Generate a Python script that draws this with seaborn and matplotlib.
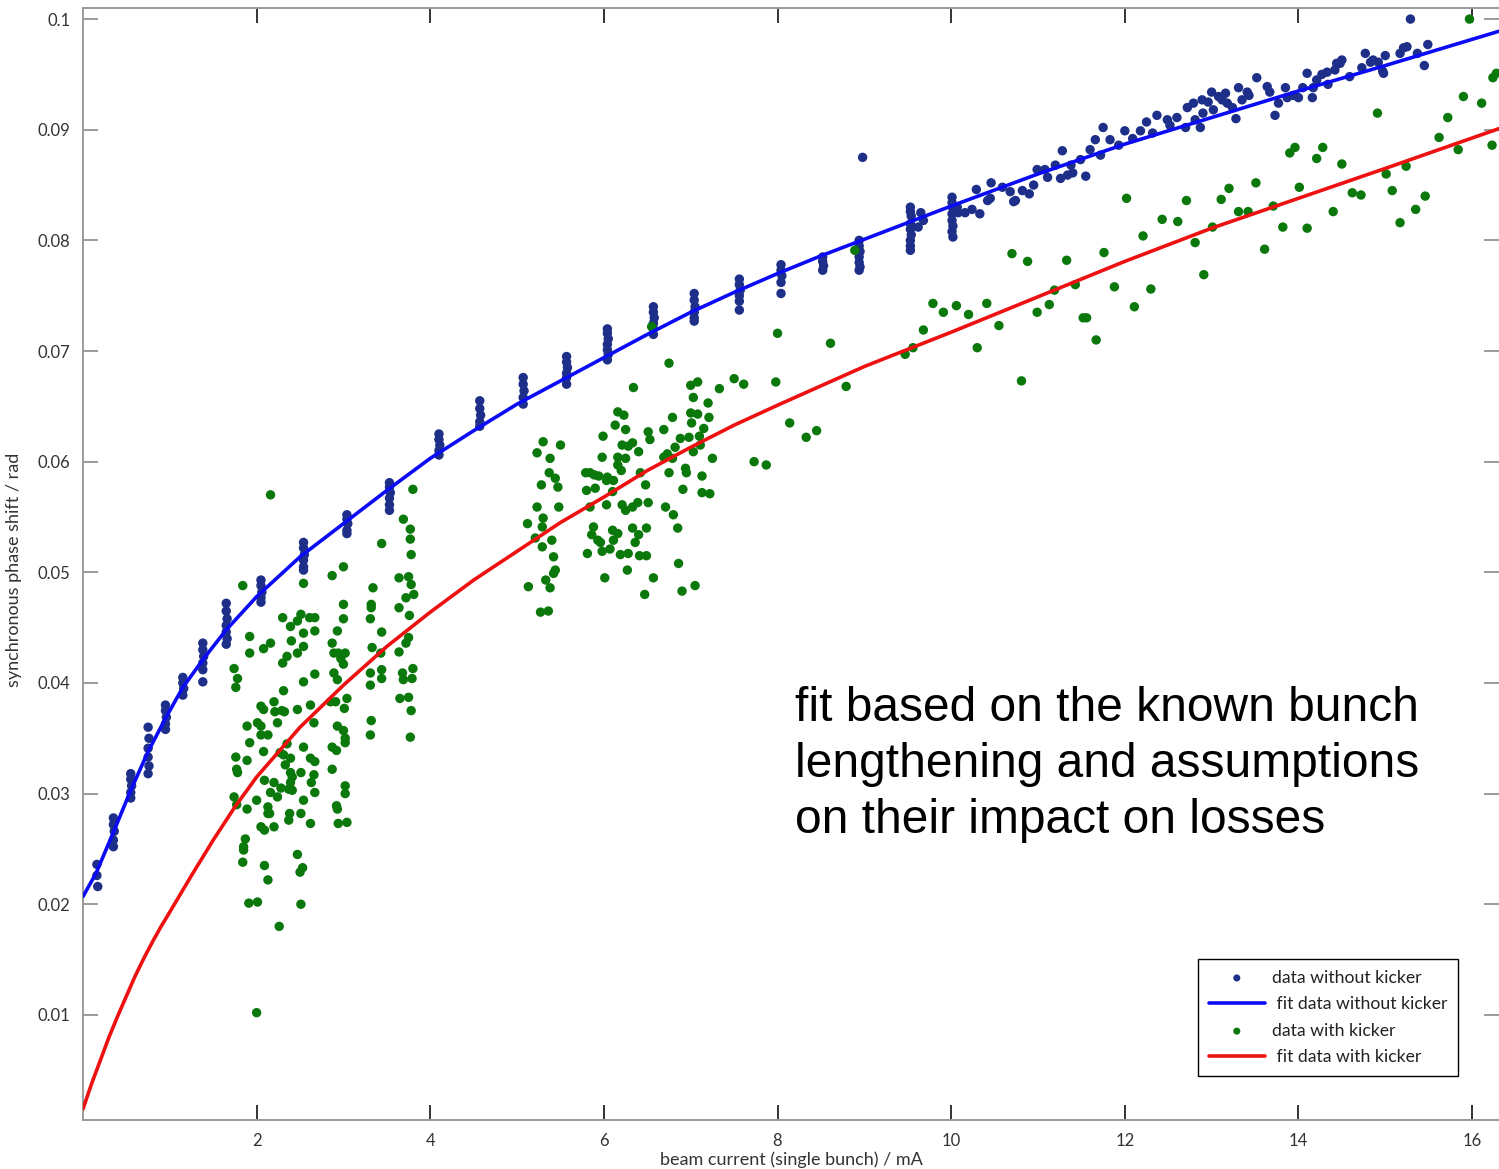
import matplotlib
matplotlib.use("Agg")
import matplotlib.pyplot as plt
import pandas as pd
import seaborn as sns
from matplotlib.ticker import FuncFormatter

# ---------------- data ----------------
blue_x = [0.16, 0.16, 0.17,
          0.35, 0.35, 0.36, 0.35, 0.35,
          0.55, 0.55, 0.56, 0.55, 0.55,
          0.75, 0.76, 0.75, 0.75, 0.76, 0.75,
          0.95, 0.95, 0.96, 0.95, 0.95,
          1.15, 1.15, 1.16, 1.15,
          1.38, 1.38, 1.39, 1.38, 1.38, 1.38,
          1.65, 1.65, 1.66, 1.65, 1.65, 1.66, 1.65,
          2.05, 2.05, 2.06, 2.05, 2.05,
          2.54, 2.54, 2.55, 2.54, 2.54, 2.54,
          3.04, 3.04, 3.05, 3.04, 3.04,
          3.53, 3.53, 3.54, 3.53, 3.53, 3.53,
          4.10, 4.10, 4.11, 4.10, 4.10,
          4.57, 4.57, 4.58, 4.57, 4.57,
          5.07, 5.07, 5.08, 5.07, 5.07,
          5.57, 5.57, 5.58, 5.57, 5.57, 5.57,
          6.04, 6.04, 6.05, 6.04, 6.04, 6.05, 6.04,
          6.57, 6.57, 6.58, 6.57, 6.57, 6.57,
          7.04, 7.04, 7.05, 7.04, 7.04, 7.04,
          7.56, 7.56, 7.57, 7.56, 7.56, 7.56,
          8.04, 8.04, 8.05, 8.04, 8.04,
          8.52, 8.52, 8.53, 8.52,
          8.94, 8.94, 8.95, 8.94, 8.94, 8.95, 8.94, 8.98,
          9.53, 9.53, 9.54, 9.53, 9.53, 9.54, 9.53, 9.53, 9.53, 9.65, 9.68, 9.62,
          10.01, 10.01, 10.02, 10.01, 10.01, 10.02, 10.01, 10.02, 10.07, 10.08,
          10.16, 10.24, 10.33, 10.29, 10.42, 10.45, 10.46, 10.59, 10.68, 10.74, 10.72, 10.82, 10.90,
          10.95, 10.99, 11.11, 11.26, 11.34, 11.40, 11.55, 11.08, 11.20, 11.28, 11.38, 11.49,
          11.60, 11.66, 11.75, 11.72, 11.83, 11.93, 12.00, 12.09, 12.18, 12.25, 12.32,
          12.37, 12.49, 12.52, 12.60, 12.70, 12.72, 12.79, 12.81, 12.87, 12.90,
          12.89, 12.96, 13.00, 13.02, 13.08, 13.12, 13.16, 13.18, 13.24, 13.28,
          13.31, 13.35, 13.41, 13.43, 13.52, 13.64, 13.67, 13.73, 13.77, 13.85,
          13.87, 13.94, 14.00, 14.05, 14.10, 14.16, 14.17, 14.21, 14.27, 14.33,
          14.34, 14.42, 14.44, 14.48, 14.50, 14.59, 14.73, 14.77, 14.83, 14.86, 14.92,
          14.97, 14.98, 15.00, 15.17, 15.21, 15.25, 15.29, 15.37, 15.45, 15.49]
blue_y = [0.0236, 0.0226, 0.0216,
          0.0278, 0.0272, 0.0266, 0.0258, 0.0252,
          0.0318, 0.0313, 0.0307, 0.0301, 0.0296,
          0.0360, 0.0350, 0.0341, 0.0333, 0.0325, 0.0318,
          0.0380, 0.0375, 0.0369, 0.0363, 0.0358,
          0.0405, 0.0400, 0.0395, 0.0389,
          0.0436, 0.0430, 0.0424, 0.0418, 0.0412, 0.0401,
          0.0472, 0.0465, 0.0458, 0.0452, 0.0446, 0.0440, 0.0435,
          0.0493, 0.0488, 0.0482, 0.0477, 0.0473,
          0.0527, 0.0522, 0.0516, 0.0511, 0.0505, 0.0502,
          0.0552, 0.0548, 0.0544, 0.0538, 0.0535,
          0.0581, 0.0577, 0.0572, 0.0567, 0.0561, 0.0556,
          0.0625, 0.0620, 0.0615, 0.0610, 0.0606,
          0.0655, 0.0648, 0.0642, 0.0636, 0.0632,
          0.0676, 0.0670, 0.0664, 0.0658, 0.0652,
          0.0695, 0.0690, 0.0685, 0.0680, 0.0676, 0.0670,
          0.0720, 0.0716, 0.0711, 0.0706, 0.0701, 0.0697, 0.0692,
          0.0740, 0.0735, 0.0730, 0.0725, 0.0720, 0.0715,
          0.0752, 0.0746, 0.0740, 0.0735, 0.0730, 0.0727,
          0.0765, 0.0760, 0.0755, 0.0750, 0.0745, 0.0737,
          0.0778, 0.0773, 0.0768, 0.0762, 0.0752,
          0.0785, 0.0781, 0.0777, 0.0773,
          0.0800, 0.0795, 0.0790, 0.0785, 0.0780, 0.0776, 0.0773, 0.0875,
          0.0830, 0.0826, 0.0822, 0.0815, 0.0810, 0.0805, 0.0800, 0.0795, 0.0791, 0.0825, 0.0818, 0.0812,
          0.0839, 0.0834, 0.0829, 0.0824, 0.0818, 0.0813, 0.0808, 0.0803, 0.0830, 0.0825,
          0.0825, 0.0828, 0.0824, 0.0846, 0.0836, 0.0838, 0.0852, 0.0848, 0.0844, 0.0836, 0.0835, 0.0845, 0.0842,
          0.0850, 0.0864, 0.0857, 0.0856, 0.0859, 0.0861, 0.0858, 0.0864, 0.0868, 0.0881, 0.0868, 0.0873,
          0.0882, 0.0891, 0.0902, 0.0877, 0.0891, 0.0886, 0.0899, 0.0892, 0.0899, 0.0907, 0.0897,
          0.0913, 0.0909, 0.0904, 0.0911, 0.0902, 0.0920, 0.0924, 0.0909, 0.0902, 0.0915,
          0.0927, 0.0925, 0.0934, 0.0918, 0.0930, 0.0927, 0.0933, 0.0924, 0.0920, 0.0910,
          0.0938, 0.0927, 0.0934, 0.0931, 0.0947, 0.0939, 0.0934, 0.0913, 0.0924, 0.0938,
          0.0929, 0.0931, 0.0929, 0.0938, 0.0951, 0.0929, 0.0938, 0.0945, 0.0950, 0.0952,
          0.0941, 0.0954, 0.0960, 0.0960, 0.0963, 0.0948, 0.0956, 0.0969, 0.0961, 0.0963, 0.0961,
          0.0953, 0.0951, 0.0967, 0.0969, 0.0974, 0.0975, 0.1000, 0.0969, 0.0958, 0.0977]

green_x = [2.16, 3.80, 1.84, 3.69, 3.77, 3.77, 3.78, 3.44, 3.00, 2.87, 2.54, 3.34,
           3.64, 3.75, 3.78, 3.81, 3.72, 3.32, 3.32, 3.64, 3.76, 3.31, 3.00, 3.00,
           2.30, 2.51, 2.47, 2.39, 2.61, 2.67, 2.67, 2.54, 2.93, 3.44, 1.92, 1.92,
           2.16, 2.08, 2.40, 2.54, 2.47, 2.87, 2.89, 2.94, 3.02, 2.97, 3.00, 3.33, 3.43,
           3.64, 3.72, 3.75, 1.74, 1.78, 1.76, 2.35, 2.30, 2.67, 2.54, 2.89, 2.93,
           3.31, 3.31, 3.44, 3.44, 3.68, 3.69, 3.80, 3.79, 2.31, 2.20, 2.29, 2.21, 2.32,
           2.05, 2.08, 2.47, 2.62, 2.85, 3.04, 3.01, 2.91, 3.65, 3.75, 3.78, 3.32,
           1.89, 2.01, 2.05, 2.24, 2.66, 2.93, 3.00, 3.02, 3.02, 3.31, 3.77, 2.05, 2.13,
           1.92, 2.08, 2.35, 2.54, 2.87, 2.92, 1.76, 1.89, 1.77, 1.78, 2.27, 2.31, 2.39, 2.33,
           2.62, 2.67, 2.51, 2.66, 2.87, 2.39, 2.41, 2.39, 2.09, 2.20, 2.28, 2.37, 2.41,
           2.16, 2.24, 2.63, 2.67, 3.02, 3.02, 1.74, 1.77, 2.00, 1.89, 2.13, 2.15, 2.13,
           2.54, 2.38, 2.37, 2.51, 2.92, 2.93, 2.05, 2.09, 2.20, 2.62, 2.94, 3.04,
           1.87, 1.85, 1.85, 1.84, 2.47, 2.09, 2.53, 2.50, 2.13, 1.91, 2.01, 2.51, 2.26, 2.00,
           6.75, 6.34, 7.00, 7.08, 7.03, 6.16, 6.23, 6.13, 6.25, 7.00, 7.08, 7.01, 7.20, 7.21,
           6.79, 6.69, 6.51, 6.53, 5.99, 5.30, 5.50, 5.23, 5.38, 6.21, 6.33, 6.28, 5.98, 6.16, 6.25,
           6.40, 6.88, 6.98, 7.10, 7.15, 6.82, 7.03, 7.11, 7.25, 6.69, 6.73, 6.79, 6.16, 6.20,
           6.94, 6.95, 6.75, 5.37, 5.44, 5.47, 5.79, 5.84, 5.89, 5.94, 6.04, 6.03, 6.11,
           5.28, 5.80, 5.90, 6.42, 6.48, 6.91, 7.13, 7.13, 7.22, 6.10, 5.23, 5.48, 5.84, 6.03,
           6.21, 6.25, 6.33, 6.39, 6.51, 6.71, 6.80, 5.12, 5.30, 5.29, 6.85, 5.88, 5.86, 5.93, 5.96,
           6.10, 6.16, 6.11, 6.07, 6.33, 6.40, 6.36, 6.49, 5.21, 5.40, 5.29, 5.98, 5.81,
           6.19, 6.28, 6.41, 6.49, 5.42, 6.86, 5.44, 5.42, 5.33, 5.38, 6.27, 6.01, 6.57,
           5.13, 6.47, 6.90, 7.05, 5.27, 5.36,
           7.50, 7.61, 7.98, 7.33, 8.14, 8.33, 8.45, 7.73, 7.87, 8.00, 8.61, 8.79, 6.55, 8.89,
           10.70, 10.88, 11.33, 11.76, 12.02, 12.43, 12.21, 9.79, 9.91, 10.06, 10.20, 10.41,
           10.55, 9.68, 9.56, 9.47, 10.30,
           10.99, 11.13, 11.19, 11.43, 11.52, 11.56, 11.67, 11.88, 12.11, 12.30, 10.81,
           14.91, 16.24, 16.28, 15.90, 16.11, 15.72, 15.62, 15.84, 16.23, 13.90, 13.96, 14.28, 14.21, 14.50,
           12.71, 13.11, 13.20, 13.51, 12.61, 13.31, 13.42, 13.71, 14.01, 13.01, 13.82, 14.10, 14.40, 14.62, 14.72,
           15.01, 15.24, 15.08, 15.46, 15.35, 15.17, 12.81, 13.61, 12.91, 15.97]
green_y = [0.0570, 0.0575, 0.0488, 0.0548, 0.0539, 0.0530, 0.0516, 0.0526, 0.0505, 0.0497, 0.0490, 0.0486,
           0.0495, 0.0496, 0.0489, 0.0480, 0.0477, 0.0471, 0.0468, 0.0468, 0.0461, 0.0458, 0.0471, 0.0458,
           0.0459, 0.0462, 0.0456, 0.0451, 0.0459, 0.0459, 0.0447, 0.0445, 0.0447, 0.0446, 0.0442, 0.0427,
           0.0436, 0.0431, 0.0438, 0.0433, 0.0427, 0.0436, 0.0427, 0.0427, 0.0427, 0.0422, 0.0417, 0.0432, 0.0427,
           0.0428, 0.0436, 0.0441, 0.0413, 0.0404, 0.0396, 0.0424, 0.0418, 0.0408, 0.0401, 0.0409, 0.0403,
           0.0409, 0.0398, 0.0412, 0.0404, 0.0409, 0.0403, 0.0413, 0.0404, 0.0393, 0.0383, 0.0375, 0.0374, 0.0374,
           0.0379, 0.0376, 0.0376, 0.0380, 0.0383, 0.0386, 0.0377, 0.0383, 0.0386, 0.0387, 0.0375, 0.0366,
           0.0361, 0.0364, 0.0361, 0.0364, 0.0364, 0.0361, 0.0357, 0.0350, 0.0346, 0.0353, 0.0351, 0.0353, 0.0353,
           0.0346, 0.0338, 0.0345, 0.0342, 0.0342, 0.0339, 0.0333, 0.0330, 0.0322, 0.0319, 0.0337, 0.0335, 0.0332, 0.0326,
           0.0332, 0.0329, 0.0319, 0.0317, 0.0322, 0.0319, 0.0315, 0.0310, 0.0312, 0.0310, 0.0305, 0.0304, 0.0303,
           0.0301, 0.0297, 0.0310, 0.0301, 0.0307, 0.0300, 0.0297, 0.0290, 0.0294, 0.0286, 0.0288, 0.0282, 0.0282,
           0.0294, 0.0282, 0.0276, 0.0282, 0.0289, 0.0286, 0.0270, 0.0267, 0.0270, 0.0273, 0.0273, 0.0274,
           0.0259, 0.0252, 0.0249, 0.0238, 0.0245, 0.0235, 0.0233, 0.0229, 0.0222, 0.0201, 0.0202, 0.0200, 0.0180, 0.0102,
           0.0689, 0.0667, 0.0669, 0.0672, 0.0658, 0.0645, 0.0642, 0.0633, 0.0629, 0.0644, 0.0643, 0.0635, 0.0653, 0.0640,
           0.0640, 0.0629, 0.0627, 0.0620, 0.0623, 0.0618, 0.0615, 0.0608, 0.0603, 0.0615, 0.0617, 0.0614, 0.0604, 0.0604, 0.0603,
           0.0609, 0.0621, 0.0622, 0.0623, 0.0630, 0.0613, 0.0609, 0.0615, 0.0603, 0.0604, 0.0607, 0.0603, 0.0597, 0.0592,
           0.0594, 0.0590, 0.0590, 0.0590, 0.0585, 0.0577, 0.0590, 0.0590, 0.0588, 0.0587, 0.0586, 0.0583, 0.0583,
           0.0579, 0.0574, 0.0576, 0.0590, 0.0579, 0.0575, 0.0587, 0.0572, 0.0571, 0.0573, 0.0559, 0.0559, 0.0559, 0.0561,
           0.0561, 0.0556, 0.0559, 0.0563, 0.0563, 0.0559, 0.0552, 0.0544, 0.0549, 0.0541, 0.0540, 0.0541, 0.0534, 0.0529, 0.0527,
           0.0538, 0.0535, 0.0529, 0.0521, 0.0540, 0.0534, 0.0527, 0.0540, 0.0531, 0.0529, 0.0523, 0.0519, 0.0517,
           0.0516, 0.0517, 0.0515, 0.0515, 0.0514, 0.0508, 0.0502, 0.0499, 0.0493, 0.0486, 0.0502, 0.0495, 0.0495,
           0.0487, 0.0480, 0.0483, 0.0488, 0.0464, 0.0465,
           0.0675, 0.0670, 0.0672, 0.0666, 0.0635, 0.0622, 0.0628, 0.0600, 0.0597, 0.0716, 0.0707, 0.0668, 0.0722, 0.0791,
           0.0788, 0.0781, 0.0782, 0.0789, 0.0838, 0.0819, 0.0804, 0.0743, 0.0735, 0.0741, 0.0733, 0.0743,
           0.0723, 0.0719, 0.0703, 0.0697, 0.0703,
           0.0735, 0.0742, 0.0755, 0.0760, 0.0730, 0.0730, 0.0710, 0.0758, 0.0740, 0.0756, 0.0673,
           0.0915, 0.0947, 0.0951, 0.0930, 0.0924, 0.0911, 0.0893, 0.0882, 0.0886, 0.0879, 0.0884, 0.0884, 0.0874, 0.0869,
           0.0836, 0.0837, 0.0847, 0.0852, 0.0817, 0.0826, 0.0826, 0.0831, 0.0848, 0.0812, 0.0812, 0.0811, 0.0826, 0.0843, 0.0841,
           0.0860, 0.0867, 0.0845, 0.0840, 0.0828, 0.0816, 0.0798, 0.0792, 0.0769, 0.1000]

blue_fit_x = [0.0, 0.15, 0.35, 0.55, 0.75, 0.95, 1.15, 1.4, 1.65, 2.0, 2.5, 3.0, 3.5, 4.0, 4.5,
              5.0, 5.5, 6.0, 6.5, 7.0, 7.5, 8.0, 8.5, 9.0, 9.5, 10.0, 11.0, 12.0, 13.0, 14.0,
              15.0, 16.31]
blue_fit_y = [0.0207, 0.0228, 0.0265, 0.0303, 0.0338, 0.0368, 0.0396, 0.0423, 0.0448, 0.0478,
              0.0514, 0.0544, 0.0574, 0.0603, 0.0628, 0.0652, 0.0673, 0.0694, 0.0715, 0.0735,
              0.0753, 0.0770, 0.0786, 0.0801, 0.0816, 0.0831, 0.0860, 0.0887, 0.0911, 0.0935,
              0.0958, 0.0989]

red_fit_x = [0.0, 0.1, 0.2, 0.3, 0.4, 0.5, 0.6, 0.7, 0.8, 0.9, 1.0, 1.25, 1.5, 1.75, 2.0, 2.5,
             3.0, 3.5, 4.0, 4.5, 5.0, 5.5, 6.0, 6.5, 7.0, 7.5, 8.0, 9.0, 10.0, 11.0, 12.0,
             13.0, 14.0, 15.0, 16.31]
red_fit_y = [0.0015, 0.0038, 0.0059, 0.0080, 0.0099, 0.0117, 0.0135, 0.0151, 0.0166, 0.0180,
             0.0193, 0.0226, 0.0258, 0.0288, 0.0315, 0.0360, 0.0398, 0.0433, 0.0464, 0.0493,
             0.0519, 0.0545, 0.0568, 0.0592, 0.0613, 0.0633, 0.0651, 0.0686, 0.0717, 0.0749,
             0.0781, 0.0811, 0.0838, 0.0865, 0.0901]

x_ticks = [2, 4, 6, 8, 10, 12, 14, 16]
y_ticks = [0.01, 0.02, 0.03, 0.04, 0.05, 0.06, 0.07, 0.08, 0.09, 0.1]

series_labels = ["data without kicker", " fit data without kicker",
                 "data with kicker", " fit data with kicker"]
x_label = "beam current (single bunch) / mA"
y_label = "synchronous phase shift / rad"
note_text = "fit based on the known bunch\nlengthening and assumptions\non their impact on losses"

# ---------------- drawing ----------------
sns.set_theme(style="white")
plt.rcParams['font.family'] = ['Lato', 'DejaVu Sans']

W, H = 1499, 1169
fig = plt.figure(figsize=(W / 100, H / 100), dpi=100)
fig.patch.set_facecolor("white")
ax = fig.add_axes([83 / W, 49 / H, (W - 83) / W, (1120 - 8) / H])

blue_df = pd.DataFrame({"x": blue_x, "y": blue_y})
green_df = pd.DataFrame({"x": green_x, "y": green_y})
bfit_df = pd.DataFrame({"x": blue_fit_x, "y": blue_fit_y})
rfit_df = pd.DataFrame({"x": red_fit_x, "y": red_fit_y})

sns.scatterplot(data=blue_df, x="x", y="y", ax=ax, color="#1d2f88", s=46,
                linewidth=0, edgecolor="none", label=series_labels[0], zorder=3)
sns.lineplot(data=bfit_df, x="x", y="y", ax=ax, color="#0b0bf5", linewidth=2.6,
             sort=False, estimator=None, label=series_labels[1], zorder=4)
sns.scatterplot(data=green_df, x="x", y="y", ax=ax, color="#0b780b", s=46,
                linewidth=0, edgecolor="none", label=series_labels[2], zorder=3)
sns.lineplot(data=rfit_df, x="x", y="y", ax=ax, color="#ee1111", linewidth=2.6,
             sort=False, estimator=None, label=series_labels[3], zorder=4)

ax.set_xlim(0.0, 16.31)
ax.set_ylim(0.0005, 0.101)
ax.set_xticks(x_ticks)
ax.set_yticks(y_ticks)
ax.xaxis.set_major_formatter(FuncFormatter(lambda v, p: f"{v:g}"))
ax.yaxis.set_major_formatter(FuncFormatter(lambda v, p: f"{v:g}"))
ax.tick_params(axis="x", direction="in", length=11, width=1.2, color="#111111",
               top=True, bottom=True, labelsize=12, pad=9, labelcolor="#333333")
ax.tick_params(axis="y", direction="in", length=11, width=1.2, color="#8a8a8a",
               left=True, right=True, labelsize=12, pad=9, labelcolor="#333333")
for side in ["left", "bottom", "top"]:
    ax.spines[side].set_color("#9a9a9a")
    ax.spines[side].set_linewidth(1.4)
ax.spines["right"].set_visible(False)
ax.grid(False)

ax.set_xlabel(x_label, fontsize=13, color="#333333", labelpad=2)
ax.set_ylabel(y_label, fontsize=13, color="#333333", labelpad=6)
ax.yaxis.set_label_coords(-0.043, 0.495)

leg = ax.legend(loc="upper left", bbox_to_anchor=(1198 / W, 1 - 959 / H),
                bbox_transform=fig.transFigure, borderaxespad=0, frameon=True,
                fancybox=False, edgecolor="black", framealpha=1, fontsize=12.7,
                markerscale=0.75, handlelength=3.2, handletextpad=0.4,
                labelspacing=0.6, borderpad=0.6)
leg.get_frame().set_linewidth(1.0)
for t in leg.get_texts():
    t.set_color("#222222")

fig.text(795 / W, 1 - 686 / H, note_text, ha="left", va="top",
         fontsize=34.5, family=["Liberation Sans", "DejaVu Sans"], color="black",
         linespacing=1.31)

fig.savefig("out.png", dpi=100, facecolor="white")
